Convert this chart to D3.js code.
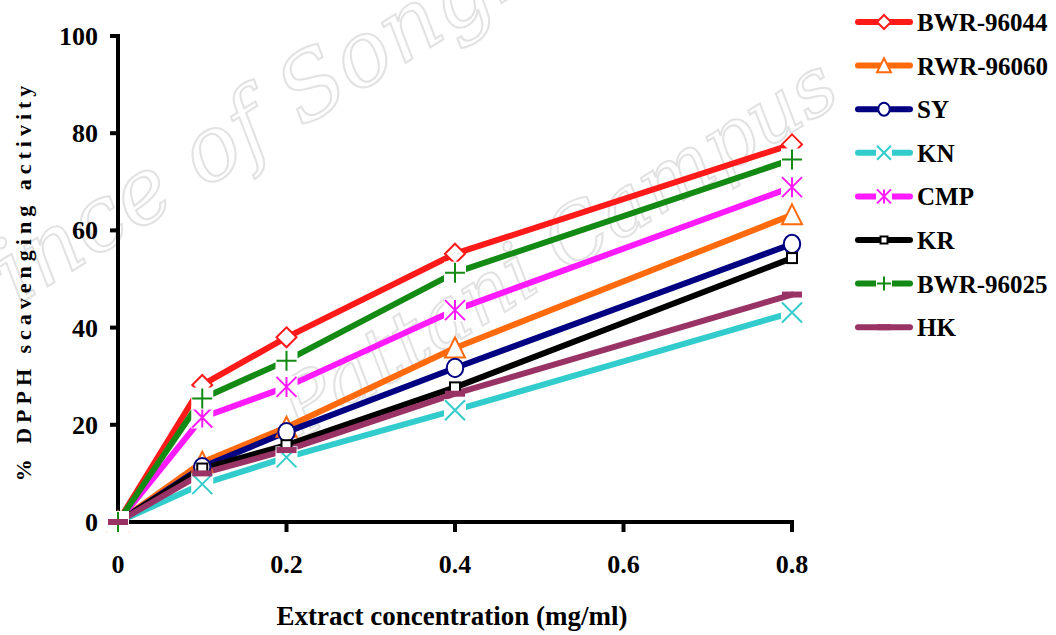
<!DOCTYPE html>
<html lang="en">
<head>
<meta charset="UTF-8">
<title>DPPH scavenging activity</title>
<script src="https://cdnjs.cloudflare.com/ajax/libs/d3/7.8.5/d3.min.js"></script>
<style>
    body { margin: 0; background: #fff; }
    svg { display: block; }
    text { font-family: "Liberation Serif", "Times New Roman", serif; font-weight: bold; fill: #000; }
</style>
</head>
<body>
<svg id="chart" width="1056" height="635"></svg>
<script>
    // extract concentration (mg/ml)
    const concentrations = [0, 0.1, 0.2, 0.4, 0.8];

    // % DPPH scavenging activity, one list per extract
    const bwr96044 = [0, 28.2, 38.0, 55.2, 77.7];
    const rwr96060 = [0, 12.3, 19.5, 35.8, 63.2];
    const sy       = [0, 11.3, 18.5, 31.7, 57.2];
    const kn       = [0, 7.8, 13.3, 23.0, 43.1];
    const cmp      = [0, 21.5, 27.8, 43.6, 68.9];
    const kr       = [0, 11.0, 15.8, 27.7, 54.3];
    const bwr96025 = [0, 25.4, 33.2, 51.3, 74.6];
    const hk       = [0, 10.0, 14.8, 26.4, 46.8];

    const seriesNames = ["BWR-96044", "RWR-96060", "SY", "KN", "CMP", "KR", "BWR-96025", "HK"];
    const seriesValues = [bwr96044, rwr96060, sy, kn, cmp, kr, bwr96025, hk];
    const seriesColors = ["#ff1a1a", "#ff6a0d", "#000080", "#33cccc", "#ff1aff", "#000000", "#138a13", "#993366"];
    const seriesMarkers = ["diamond", "triangle", "circle", "x", "asterisk", "square", "plus", "dash"];

    const xTicks = [0, 0.2, 0.4, 0.6, 0.8];
    const yTicks = [0, 20, 40, 60, 80, 100];

    const svg = d3.select("#chart");

    const x = d3.scaleLinear().domain([0, 0.8]).range([118, 792]);
    const y = d3.scaleLinear().domain([0, 100]).range([522, 36]);

    // faint watermark
    const wm = svg.append("g").attr("class", "watermark");
    wm.append("text")
        .attr("transform", "translate(-70,360) rotate(-32)")
        .style("font-size", "90px")
        .text("Prince of Songkla");
    wm.append("text")
        .attr("transform", "translate(300,440) rotate(-32)")
        .style("font-size", "80px")
        .text("Pattani Campus");
    wm.selectAll("text")
        .style("font-family", "'DejaVu Serif', serif")
        .style("font-style", "italic")
        .style("font-weight", "normal")
        .style("fill", "#fff")
        .style("stroke", "#e2e2e2")
        .style("stroke-width", "2px");

    // axes
    const axisG = svg.append("g").attr("class", "axes");
    axisG.append("line")
        .attr("x1", x(0)).attr("x2", x(0))
        .attr("y1", y(100) - 2).attr("y2", y(0) + 2)
        .attr("stroke", "#000").attr("stroke-width", 4);
    axisG.append("line")
        .attr("x1", x(0) - 2).attr("x2", x(0.8) + 2)
        .attr("y1", y(0)).attr("y2", y(0))
        .attr("stroke", "#000").attr("stroke-width", 4);

    axisG.selectAll(".ytick")
        .data(yTicks)
        .enter()
        .append("line")
        .attr("class", "ytick")
        .attr("x1", x(0) - 8).attr("x2", x(0))
        .attr("y1", d => y(d)).attr("y2", d => y(d))
        .attr("stroke", "#000").attr("stroke-width", 4);

    axisG.selectAll(".xtick")
        .data(xTicks.filter(d => d > 0))
        .enter()
        .append("line")
        .attr("class", "xtick")
        .attr("x1", d => x(d)).attr("x2", d => x(d))
        .attr("y1", y(0)).attr("y2", y(0) + 10)
        .attr("stroke", "#000").attr("stroke-width", 4);

    axisG.selectAll(".ylabel")
        .data(yTicks)
        .enter()
        .append("text")
        .attr("class", "ylabel")
        .attr("x", 98)
        .attr("y", d => y(d) + 9)
        .attr("text-anchor", "end")
        .style("font-size", "26px")
        .text(d => d);

    axisG.selectAll(".xlabel")
        .data(xTicks)
        .enter()
        .append("text")
        .attr("class", "xlabel")
        .attr("x", d => x(d))
        .attr("y", 573)
        .attr("text-anchor", "middle")
        .style("font-size", "26px")
        .text(d => d);

    svg.append("text")
        .attr("x", 452)
        .attr("y", 625)
        .attr("text-anchor", "middle")
        .style("font-size", "27px")
        .text("Extract concentration (mg/ml)");

    svg.append("text")
        .attr("transform", "translate(31,281) rotate(-90)")
        .attr("text-anchor", "middle")
        .style("font-size", "22px")
        .style("letter-spacing", "5px")
        .text("% DPPH scavenging activity");

    // series lines
    const line = d3.line()
        .x((d, i) => x(concentrations[i]))
        .y(d => y(d));

    svg.append("g")
        .attr("class", "lines")
        .selectAll("path")
        .data(seriesValues)
        .enter()
        .append("path")
        .attr("d", d => line(d))
        .attr("fill", "none")
        .attr("stroke", (d, i) => seriesColors[i])
        .attr("stroke-width", 6)
        .attr("stroke-linejoin", "round")
        .attr("stroke-linecap", "round");

    function drawMarker(g, type, color, s) {
        // s = half size of marker
        if (type === "diamond") {
            g.append("path")
                .attr("d", `M0,${-s}L${s},0L0,${s}L${-s},0Z`)
                .attr("fill", "#fff").attr("stroke", color).attr("stroke-width", 2);
        } else if (type === "triangle") {
            g.append("path")
                .attr("d", `M0,${-s * 1.05}L${s},${s * 0.95}L${-s},${s * 0.95}Z`)
                .attr("fill", "#fff").attr("stroke", color).attr("stroke-width", 2);
        } else if (type === "circle") {
            g.append("ellipse")
                .attr("rx", s * 0.82).attr("ry", s * 0.92)
                .attr("fill", "#fff").attr("stroke", color).attr("stroke-width", 2);
        } else if (type === "square") {
            g.append("rect")
                .attr("x", -s * 0.5).attr("y", -s * 0.5)
                .attr("width", s).attr("height", s)
                .attr("fill", "#fff").attr("stroke", color).attr("stroke-width", 2);
        } else if (type === "x" || type === "asterisk" || type === "plus") {
            const b = s + 1;
            g.append("rect")
                .attr("x", -b).attr("y", -b)
                .attr("width", 2 * b).attr("height", 2 * b)
                .attr("fill", "#fff");
            let d = "";
            if (type === "x" || type === "asterisk") {
                d += `M${-s},${-s}L${s},${s}M${-s},${s}L${s},${-s}`;
            }
            if (type === "asterisk" || type === "plus") {
                d += `M0,${-s}L0,${s}`;
            }
            if (type === "plus") {
                d += `M${-s},0L${s},0`;
            }
            g.append("path")
                .attr("d", d)
                .attr("fill", "none").attr("stroke", color).attr("stroke-width", 2);
        } else if (type === "dash") {
            g.append("rect")
                .attr("x", -s).attr("y", -3)
                .attr("width", 2 * s).attr("height", 6)
                .attr("fill", color);
        }
    }

    // series markers
    const markerG = svg.append("g").attr("class", "markers");
    seriesValues.forEach((vals, si) => {
        vals.forEach((v, i) => {
            const g = markerG.append("g")
                .attr("transform", `translate(${x(concentrations[i])},${y(v)})`);
            drawMarker(g, seriesMarkers[si], seriesColors[si], 10);
        });
    });

    // legend
    const legend = svg.append("g").attr("class", "legend");
    seriesNames.forEach((name, i) => {
        const cy = 22 + i * 43.6;
        const row = legend.append("g").attr("transform", `translate(0,${cy})`);
        row.append("line")
            .attr("x1", 858).attr("x2", 910)
            .attr("y1", 0).attr("y2", 0)
            .attr("stroke", seriesColors[i])
            .attr("stroke-width", 6)
            .attr("stroke-linecap", "round");
        const m = row.append("g").attr("transform", "translate(884,0)");
        drawMarker(m, seriesMarkers[i], seriesColors[i], 7);
        row.append("text")
            .attr("x", 917)
            .attr("y", 9)
            .style("font-size", "25px")
            .text(name);
    });
</script>
</body>
</html>
